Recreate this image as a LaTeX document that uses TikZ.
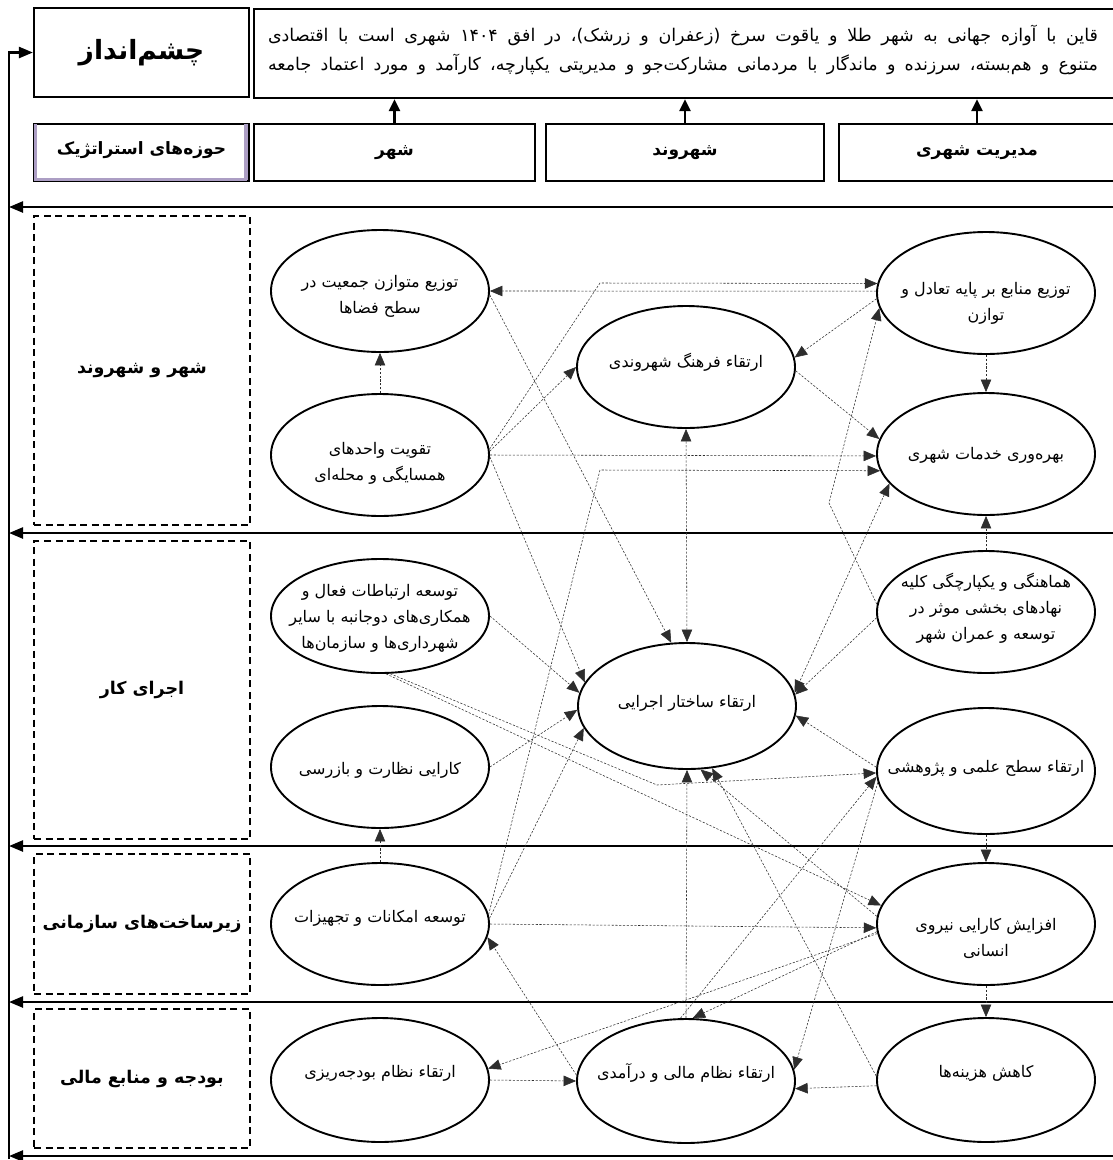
\documentclass[tikz,border=0pt]{standalone}
\usepackage{fontspec}
\usetikzlibrary{arrows.meta,shapes.geometric}
\newfontfamily\fa[Script=Arabic]{DejaVu Sans}
\TeXXeTstate=1
\newcommand\rtl[1]{\beginR#1\endR}
\definecolor{lav}{RGB}{172,158,196}
\definecolor{conncol}{RGB}{45,45,45}
\begin{document}
\begin{tikzpicture}[x=1pt,y=-1pt,
  boxst/.style={draw=black,line width=2.2pt,inner sep=0pt,font=\fa\bfseries\fontsize{17}{20}\selectfont},
  dbox/.style={draw=black,line width=2.2pt,dash pattern=on 7pt off 4.5pt,inner sep=0pt,minimum width=216,font=\fa\bfseries\fontsize{17.5}{21}\selectfont},
  ell/.style={draw=black,ellipse,line width=1.9pt,inner sep=0pt,minimum width=218,minimum height=122},
  etext/.style={align=center,inner sep=0pt,font=\fa\fontsize{16}{26}\selectfont},
  thk/.style={line width=2.4pt},
  thkarr/.style={line width=2.4pt,-{Triangle[length=14pt,width=11pt]}},
  conn/.style={draw=conncol,line width=0.55pt,dash pattern=on 2.2pt off 1.6pt,-{Triangle[length=12.5pt,width=10.5pt]}},
  conn2/.style={draw=conncol,line width=0.55pt,dash pattern=on 2.2pt off 1.6pt,{Triangle[length=12.5pt,width=10.5pt]}-{Triangle[length=12.5pt,width=10.5pt]}}
]
\useasboundingbox (0,0) rectangle (1112,1160);
\fill[white] (0,0) rectangle (1112,1160);

% ---- top boxes
\node[boxst,minimum width=215,minimum height=89,font=\fa\bfseries\fontsize{26.5}{30}\selectfont] (vlab) at (141.5,52.5) {\rtl{چشم‌انداز}};
\node[boxst,minimum width=862,minimum height=89] (vtext) at (685,53.5) {};
\node[inner sep=0pt,font=\fa\fontsize{17.5}{20}\selectfont] (vt1) at (683,35) {\hbox to 830pt{\rtl{قاین با آوازه جهانی به شهر طلا و یاقوت سرخ (زعفران و زرشک)، در افق \beginL۱۴۰۴\endL{} شهری است با اقتصادی}}};
\node[inner sep=0pt,font=\fa\fontsize{17.5}{20}\selectfont] (vt2) at (683,64) {\hbox to 830pt{\rtl{متنوع و هم‌بسته، سرزنده و ماندگار با مردمانی مشارکت‌جو و مدیریتی یکپارچه، کارآمد و مورد اعتماد جامعه}}};

\node[boxst,minimum width=215,minimum height=57] (sa) at (141.5,152.5) {};
\draw[lav,line width=2.5pt] (35.5,124) -- (35.5,179.5) -- (247,179.5);
\draw[lav,line width=4pt] (246,124) -- (246,180);
\node[boxst,draw=none] (sat) at (141.5,150) {\rtl{حوزه‌های استراتژیک}};
\node[boxst,minimum width=281,minimum height=57] (b1) at (394.5,152.5) {\rtl{شهر}};
\node[boxst,minimum width=278,minimum height=57] (b2) at (685,152.5) {\rtl{شهروند}};
\node[boxst,minimum width=276,minimum height=57] (b3) at (977,152.5) {\rtl{مدیریت شهری}};
\draw[thk,-{Triangle[length=12pt,width=11pt]}] (b1.north) -- (b1.north |- vtext.south);
\draw[thk,-{Triangle[length=12pt,width=11pt]}] (b2.north) -- (b2.north |- vtext.south);
\draw[thk,-{Triangle[length=12pt,width=11pt]}] (b3.north) -- (b3.north |- vtext.south);

% ---- frame lines
\coordinate (ltop) at (9,52.5);
\coordinate (lb) at (9,1159);
\foreach \i/\yy in {1/207,2/533,3/846,4/1002,5/1156}{
  \coordinate (r\i) at (1116,\yy);
  \coordinate (l\i) at (9,\yy);
}
\draw[thkarr] (lb) -- (ltop) -- (vlab.west);
\foreach \i in {1,...,5}{ \draw[thkarr] (r\i) -- (l\i); }

% ---- dashed area boxes
\node[dbox,minimum height=309] (d1) at (142,370.5) {\rtl{شهر و شهروند}};
\node[dbox,minimum height=298] (d2) at (142,690) {\rtl{اجرای کار}};
\node[dbox,minimum height=140] (d3) at (142,924) {\rtl{زیرساخت‌های سازمانی}};
\node[dbox,minimum height=139] (d4) at (142,1078.5) {\rtl{بودجه و منابع مالی}};

% ---- ellipses
\node[ell] (e1) at (380,291) {};
\node[ell] (e2) at (380,455) {};
\node[ell] (e3) at (686,367) {};
\node[ell] (e4) at (986,293) {};
\node[ell] (e5) at (986,454) {};
\node[ell,minimum height=114] (e6) at (380,616) {};
\node[ell] (e7) at (380,767) {};
\node[ell,minimum height=126] (e8) at (687,706) {};
\node[ell] (e9) at (986,612) {};
\node[ell,minimum height=126] (e10) at (986,771) {};
\node[ell] (e11) at (380,924) {};
\node[ell,minimum height=124] (e12) at (380,1080) {};
\node[ell,minimum height=124] (e13) at (686,1081) {};
\node[ell] (e14) at (986,924) {};
\node[ell,minimum height=124] (e15) at (986,1080) {};

\node[etext] (t1) at (380,296) {\rtl{توزیع متوازن جمعیت در}\\\rtl{سطح فضاها}};
\node[etext] (t2) at (380,463) {\rtl{تقویت واحدهای}\\\rtl{همسایگی و محله‌ای}};
\node[etext] (t3) at (686,362) {\rtl{ارتقاء فرهنگ شهروندی}};
\node[etext] (t4) at (986,303) {\rtl{توزیع منابع بر پایه تعادل و}\\\rtl{توازن}};
\node[etext] (t5) at (986,455) {\rtl{بهره‌وری خدمات شهری}};
\node[etext] (t6) at (380,618) {\rtl{توسعه ارتباطات فعال و}\\\rtl{همکاری‌های دوجانبه با سایر}\\\rtl{شهرداری‌ها و سازمان‌ها}};
\node[etext] (t7) at (380,770) {\rtl{کارایی نظارت و بازرسی}};
\node[etext] (t8) at (687,703) {\rtl{ارتقاء ساختار اجرایی}};
\node[etext] (t9) at (986,608) {\rtl{هماهنگی و یکپارچگی کلیه}\\\rtl{نهادهای بخشی موثر در}\\\rtl{توسعه و عمران شهر}};
\node[etext] (t10) at (986,768) {\rtl{ارتقاء سطح علمی و پژوهشی}};
\node[etext] (t11) at (380,918) {\rtl{توسعه امکانات و تجهیزات}};
\node[etext] (t12) at (380,1073) {\rtl{ارتقاء نظام بودجه‌ریزی}};
\node[etext] (t13) at (686,1073) {\rtl{ارتقاء نظام مالی و درآمدی}};
\node[etext] (t14) at (986,938) {\rtl{افزایش کارایی نیروی}\\\rtl{انسانی}};
\node[etext] (t15) at (986,1073) {\rtl{کاهش هزینه‌ها}};

% ---- bend points
\coordinate (c1) at (600,283);
\coordinate (c2) at (600,470);
\coordinate (c3) at (829,503);
\coordinate (c4) at (657,785);

% ---- connectors
\draw[conn] (e2.north) -- (e1.south);
\draw[conn] (e4.179) -- (e1.east);
\draw[conn] (e2.3) -- (c1) -- (e4.175);
\draw[conn] (e2.2) -- (e3.180);
\draw[conn] (e2.east) -- (e5.181);
\draw[conn] (e2.359) -- (e8.167);
\draw[conn] (e1.358) -- (e8.104);
\draw[conn] (e4.183) -- (e3.5);
\draw[conn] (e4.south) -- (e5.north);
\draw[conn] (e3.358) -- (e5.172);
\draw[conn2] (e3.south) -- (e8.north);
\draw[conn] (e11.5) -- (c2) -- (e5.189);
\draw[conn] (e9.176) -- (c3) -- (e4.188);
\draw[conn2] (e5.197) -- (e8.7);
\draw[conn] (e9.183) -- (e8.6);
\draw[conn] (e10.178) -- (e8.355);
\draw[conn] (e6.east) -- (e8.173);
\draw[conn] (e7.east) -- (e8.182);
\draw[conn] (e11.3) -- (e8.192);
\draw[conn] (e12.east) -- (e13.west);
\draw[conn] (e13.177) -- (e11.353);
\draw[conn] (e11.east) -- (e14.182);
\draw[conn] (e14.185) -- (e12.6);
\draw[conn] (e14.184) -- (e13.84);
\draw[conn] (e13.north) -- (e8.south);
\draw[conn] (e14.176) -- (e8.282);
\draw[conn] (e6.276) -- (e14.170);
\draw[conn] (e15.178) -- (e8.292);
\draw[conn] (e15.183) -- (e13.356);
\draw[conn] (e10.186) -- (e13.6);
\draw[conn] (e13.95) -- (e10.183);
\draw[conn] (e6.280) -- (c4) -- (e10.181);
\draw[conn] (e9.north) -- (e5.south);
\draw[conn] (e10.south) -- (e14.north);
\draw[conn] (e14.south) -- (e15.north);
\draw[conn] (e11.north) -- (e7.south);
\end{tikzpicture}
\end{document}
